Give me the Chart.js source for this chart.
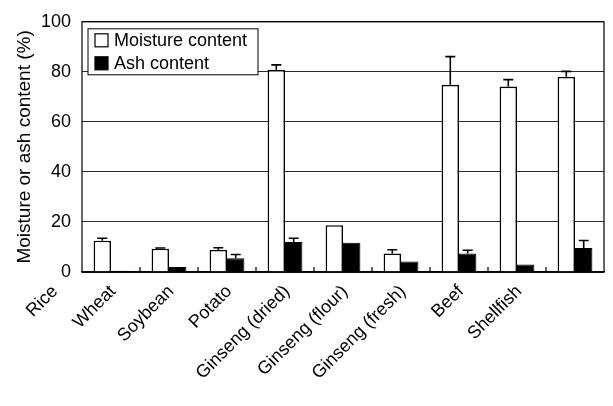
<!DOCTYPE html>
<html>
<head>
<meta charset="utf-8">
<script src="https://cdn.jsdelivr.net/npm/chart.js@4.4.1/dist/chart.umd.min.js"></script>
<style>
  html, body { margin: 0; padding: 0; background: #fff; }
  #wrap { width: 613px; height: 406px; }
</style>
</head>
<body>
<div id="wrap"><canvas id="chart"></canvas></div>
<script>
const categories = ["Rice", "Wheat", "Soybean", "Potato", "Ginseng (dried)", "Ginseng (flour)", "Ginseng (fresh)", "Beef", "Shellfish"];
const moisture = [12.5, 9.3, 8.8, 80.8, 18.7, 7.4, 74.8, 74.1, 78.0];
const moistureErr = [1.0, 0.3, 0.9, 2.0, 0, 1.5, 11.3, 2.8, 2.2];
const ash = [0.5, 2.0, 5.5, 12.0, 11.7, 4.2, 7.4, 3.0, 9.6];
const ashErr = [0, 0, 1.5, 1.5, 0, 0, 1.3, 0, 3.0];
const yTicks = [0, 20, 40, 60, 80, 100];

const FONT = "'Liberation Sans', Arial, sans-serif";

const errorBars = {
  id: "errorBars",
  afterDatasetsDraw(chart) {
    const ctx = chart.ctx;
    const y = chart.scales.y;
    ctx.save();
    ctx.strokeStyle = "#000";
    ctx.lineWidth = 1.6;
    chart.data.datasets.forEach((ds, i) => {
      const meta = chart.getDatasetMeta(i);
      meta.data.forEach((bar, j) => {
        const e = ds.errors[j];
        if (!e) return;
        const top = y.getPixelForValue(ds.data[j] + e);
        ctx.beginPath();
        ctx.moveTo(bar.x, bar.y);
        ctx.lineTo(bar.x, top);
        ctx.moveTo(bar.x - 5, top);
        ctx.lineTo(bar.x + 5, top);
        ctx.stroke();
      });
    });
    ctx.restore();
  }
};

const frameAndLegend = {
  id: "frameAndLegend",
  afterDraw(chart) {
    const ctx = chart.ctx;
    const a = chart.chartArea;
    const x = chart.scales.x;
    ctx.save();
    // plot frame
    ctx.strokeStyle = "#000";
    ctx.lineWidth = 1.2;
    ctx.strokeRect(a.left, a.top, a.right - a.left, a.bottom - a.top);
    // inner ticks at category boundaries
    ctx.beginPath();
    for (let i = 1; i < categories.length; i++) {
      const px = (x.getPixelForValue(i - 1) + x.getPixelForValue(i)) / 2;
      ctx.moveTo(px, a.bottom);
      ctx.lineTo(px, a.bottom - 5);
    }
    ctx.stroke();
    // legend box
    const lx = a.left + 6, ly = a.top + 7, lw = 170, lh = 46;
    ctx.fillStyle = "#fff";
    ctx.fillRect(lx, ly, lw, lh);
    ctx.lineWidth = 1;
    ctx.strokeRect(lx, ly, lw, lh);
    ctx.font = "18px " + FONT;
    ctx.textBaseline = "middle";
    chart.data.datasets.forEach((ds, i) => {
      const cy = ly + 11 + i * 23;
      ctx.fillStyle = ds.backgroundColor;
      ctx.fillRect(lx + 7, cy - 6, 13, 13);
      ctx.strokeStyle = "#000";
      ctx.lineWidth = 1.2;
      ctx.strokeRect(lx + 7, cy - 6, 13, 13);
      ctx.fillStyle = "#000";
      ctx.fillText(ds.label, lx + 26, cy + 1);
    });
    ctx.restore();
  }
};

new Chart(document.getElementById("chart"), {
  type: "bar",
  data: {
    labels: categories,
    datasets: [
      { label: "Moisture content", data: moisture, errors: moistureErr, backgroundColor: "#fff", borderColor: "#000", borderWidth: 1.6 },
      { label: "Ash content", data: ash, errors: ashErr, backgroundColor: "#000", borderColor: "#000", borderWidth: 1 }
    ]
  },
  options: {
    responsive: true,
    maintainAspectRatio: false,
    animation: false,
    layout: { padding: { top: 14, right: 9, left: 0, bottom: 0 } },
    categoryPercentage: 0.6,
    barPercentage: 1.0,
    plugins: { legend: { display: false }, tooltip: { enabled: false } },
    scales: {
      x: {
        grid: { display: false },
        border: { color: "#000", width: 1.2 },
        ticks: {
          color: "#000",
          font: { family: FONT, size: 18 },
          minRotation: 45,
          maxRotation: 45,
          labelOffset: -56,
          padding: 1
        },
        afterFit(s) { s.height = 134; }
      },
      y: {
        min: 0,
        max: 100,
        afterBuildTicks(s) { s.ticks = yTicks.map(v => ({ value: v })); },
        grid: { color: "#2a2a2a", lineWidth: 1, drawTicks: false },
        border: { display: false },
        ticks: {
          color: "#000",
          font: { family: FONT, size: 18 },
          padding: 11
        },
        title: {
          display: true,
          text: "Moisture or ash content (%)",
          color: "#000",
          font: { family: FONT, size: 19 },
          padding: { top: 13, bottom: 0 }
        },
        afterFit(s) { s.width = 82; }
      }
    }
  },
  plugins: [errorBars, frameAndLegend]
});
</script>
</body>
</html>
